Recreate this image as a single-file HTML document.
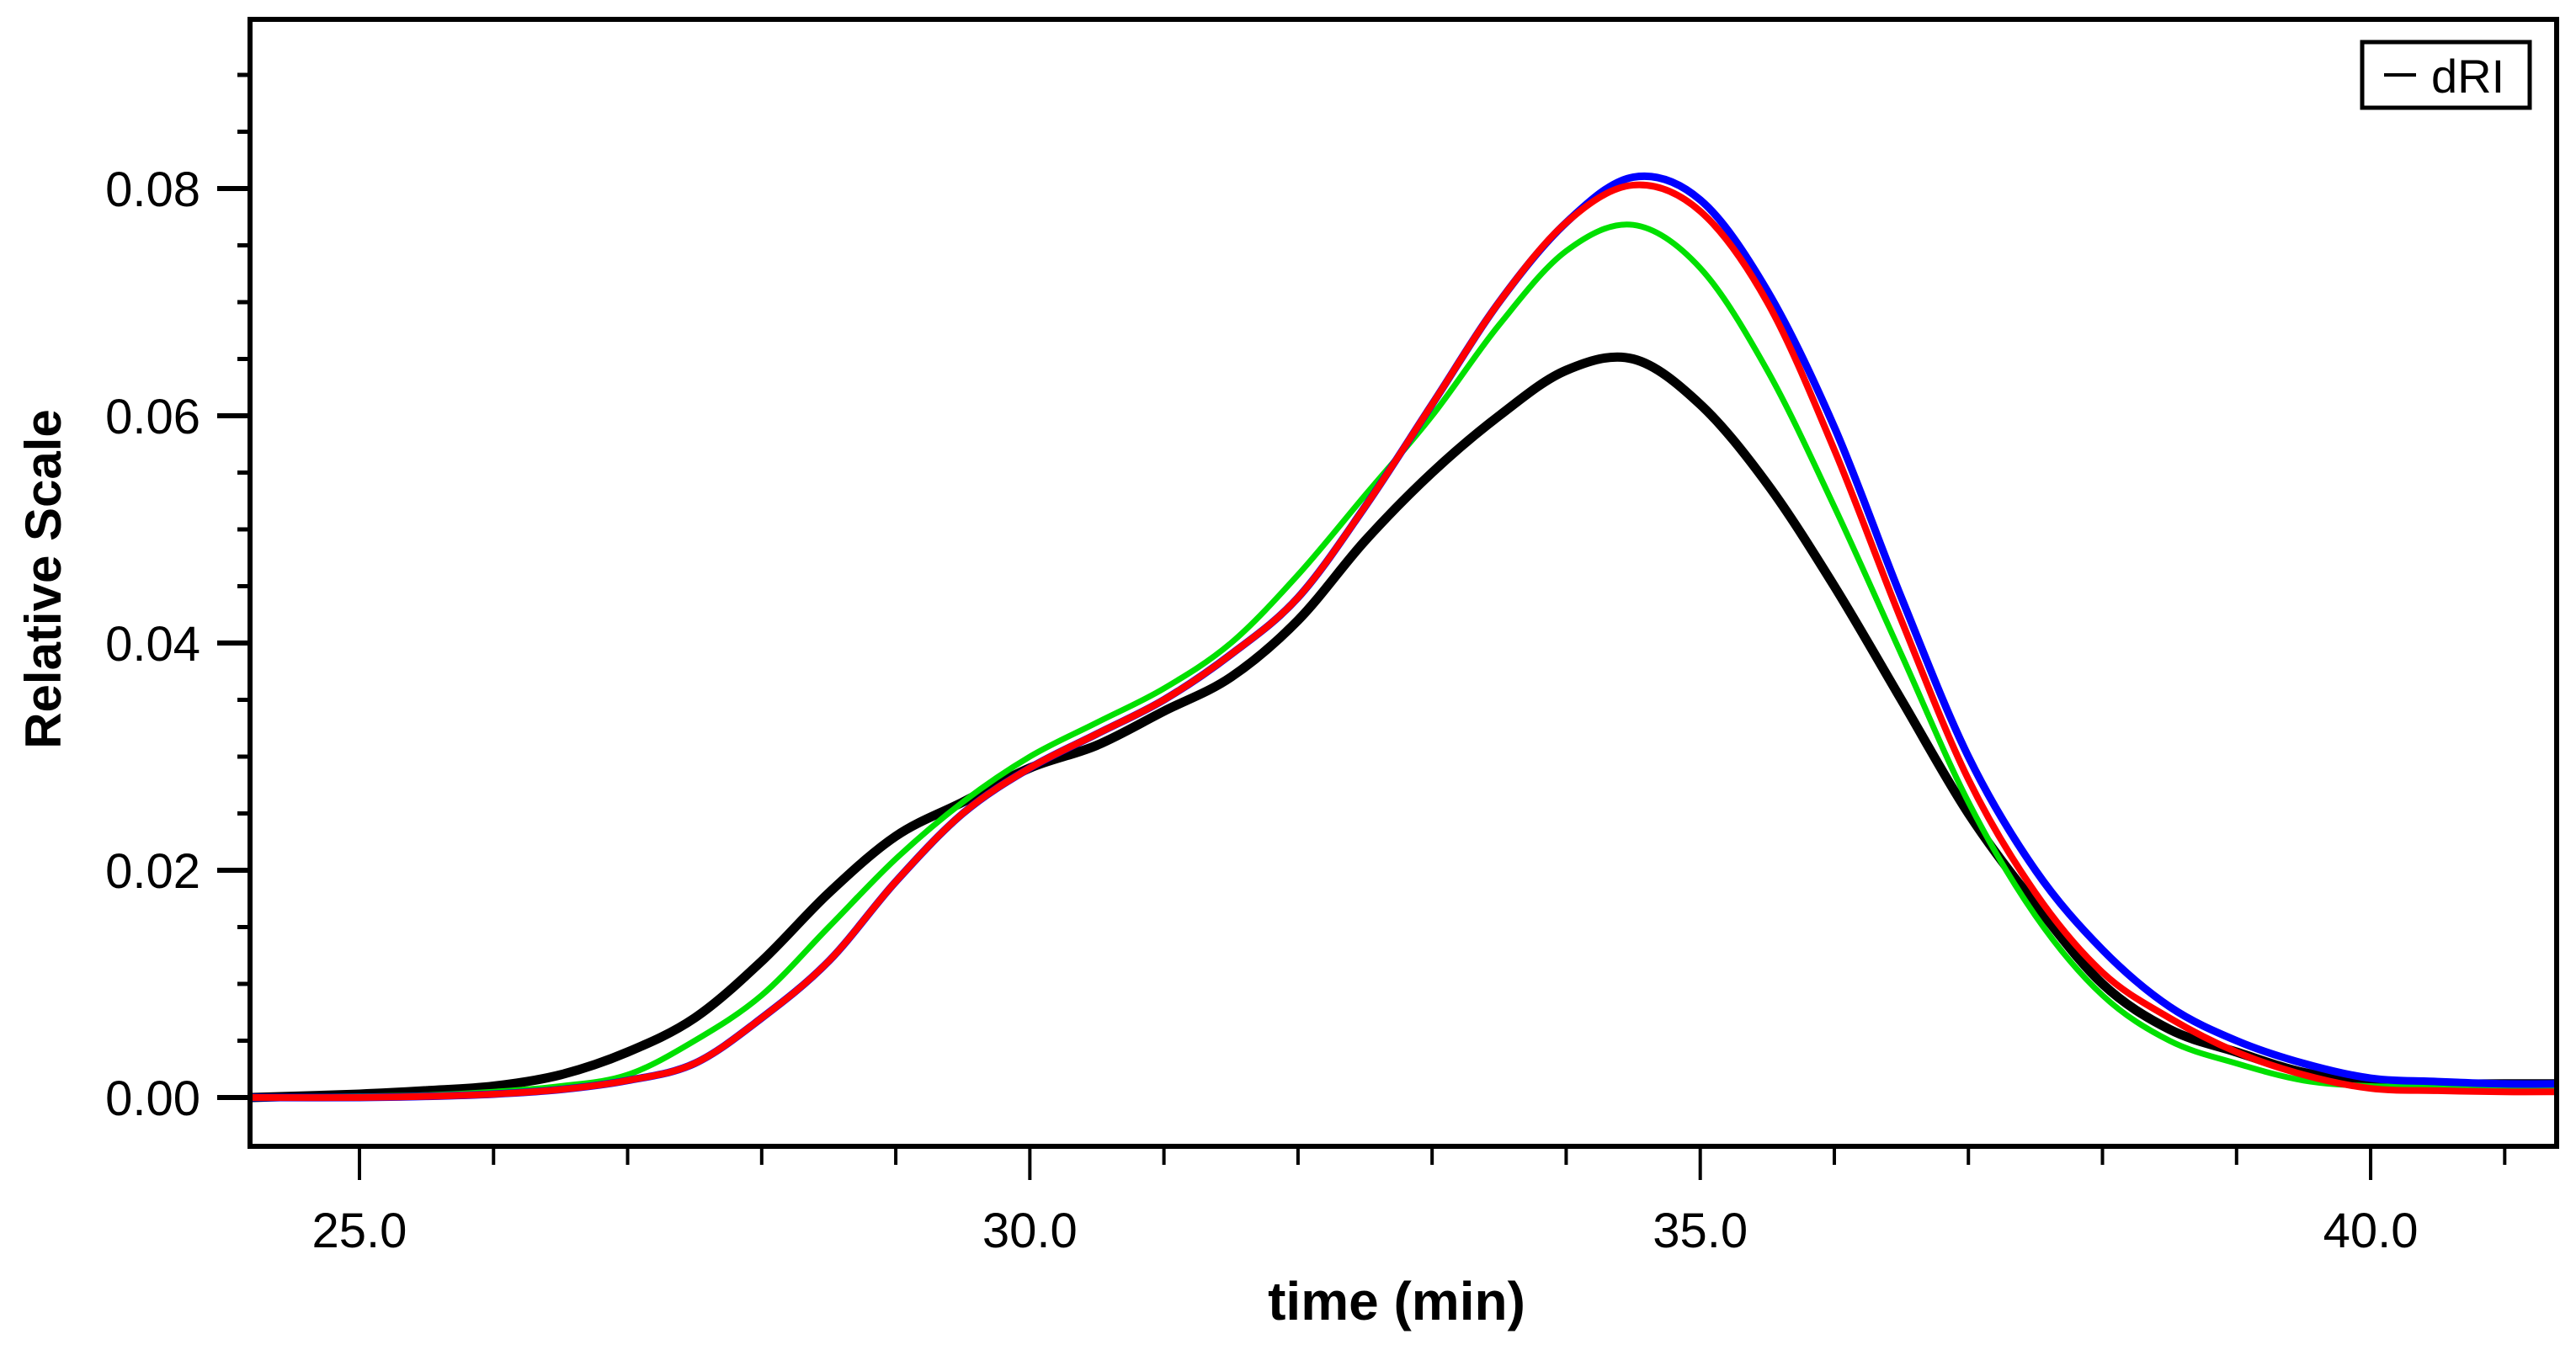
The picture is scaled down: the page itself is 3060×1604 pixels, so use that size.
<!DOCTYPE html>
<html><head><meta charset="utf-8"><style>
html,body{margin:0;padding:0;background:#fff;}
svg{display:block;}
text{font-family:"Liberation Sans",sans-serif;}
</style></head><body>
<svg id="chart" width="3060" height="1604" viewBox="0 0 3060 1604" xmlns="http://www.w3.org/2000/svg">
<rect x="0" y="0" width="3060" height="1604" fill="#fff"/>
<g id="series"></g>
<rect x="297" y="23" width="2740" height="1339" fill="none" stroke="#000" stroke-width="6"/>
<g id="axes"></g>
<text x="1659" y="1568" font-size="64" font-weight="bold" text-anchor="middle">time (min)</text>
<text transform="translate(72,688) rotate(-90)" font-size="60" font-weight="bold" text-anchor="middle">Relative Scale</text>
<g>
<rect x="2806" y="50" width="199" height="78" fill="#fff" stroke="#000" stroke-width="5"/>
<line x1="2832" y1="89" x2="2870" y2="89" stroke="#000" stroke-width="4"/>
<text x="2888" y="110" font-size="56">dRI</text>
</g>
</svg>
<script>
const times = [24.2,25,25.5,26,26.5,27,27.5,28,28.5,29,29.5,30,30.5,31,31.5,32,32.5,33,33.5,34,34.5,35,35.5,36,36.5,37,37.5,38,38.5,39,39.5,40,40.5,41,41.38];
const blackVals = [0,0.0003,0.0006,0.001,0.002,0.004,0.007,0.012,0.018,0.023,0.026,0.029,0.031,0.034,0.037,0.042,0.049,0.055,0.060,0.064,0.065,0.061,0.054,0.045,0.035,0.025,0.017,0.010,0.006,0.004,0.0022,0.0014,0.0012,0.0012,0.0012];
const greenVals = [0,0.0001,0.0002,0.0005,0.001,0.002,0.005,0.009,0.015,0.021,0.026,0.030,0.033,0.036,0.040,0.046,0.053,0.060,0.068,0.0745,0.0768,0.073,0.064,0.052,0.039,0.026,0.016,0.009,0.005,0.003,0.0015,0.001,0.001,0.001,0.001];
const blueVals = [0,0,0.0001,0.0003,0.0007,0.0015,0.003,0.007,0.012,0.019,0.025,0.029,0.032,0.035,0.039,0.044,0.052,0.061,0.070,0.077,0.081,0.079,0.071,0.059,0.044,0.030,0.020,0.013,0.008,0.005,0.003,0.0017,0.0014,0.0012,0.0012];
const redVals = [0,0,0.0001,0.0003,0.0007,0.0015,0.003,0.007,0.012,0.019,0.025,0.029,0.032,0.035,0.039,0.044,0.052,0.061,0.070,0.077,0.0803,0.078,0.070,0.057,0.042,0.028,0.018,0.011,0.007,0.004,0.002,0.0008,0.0006,0.0005,0.0005];
const xTickLabels = ["25.0","30.0","35.0","40.0"];
const xTickValues = [25,30,35,40];
const yTickLabels = ["0.00","0.02","0.04","0.06","0.08"];
const yTickValues = [0,0.02,0.04,0.06,0.08];

const NS="http://www.w3.org/2000/svg";
function xs(t){return 427+(t-25)*159.27;}
function ys(v){return 1304-v*13500;}
function mk(tag,attrs,parent){const e=document.createElementNS(NS,tag);for(const k in attrs)e.setAttribute(k,attrs[k]);parent.appendChild(e);return e;}
const sg=document.getElementById('series');
const seriesList=[["black",blackVals,"#000",11],["green",greenVals,"#00e000",7],["blue",blueVals,"#0000ff",9],["red",redVals,"#ff0000",8]];
seriesList.forEach(s=>{
  const n=times.length;
  const P=times.map((t,i)=>[xs(t),ys(s[1][i])]);
  let d="M"+P[0][0]+","+P[0][1];
  for(let i=0;i<n-1;i++){
    const p0=P[Math.max(0,i-1)],p1=P[i],p2=P[i+1],p3=P[Math.min(n-1,i+2)];
    const c1=[p1[0]+(p2[0]-p0[0])/6,p1[1]+(p2[1]-p0[1])/6];
    const c2=[p2[0]-(p3[0]-p1[0])/6,p2[1]-(p3[1]-p1[1])/6];
    d+=" C"+c1[0]+","+c1[1]+" "+c2[0]+","+c2[1]+" "+p2[0]+","+p2[1];
  }
  const p=mk('path',{d:d,fill:"none",stroke:s[2],"stroke-width":s[3],"stroke-linejoin":"round"},sg);
  
  
});
const ag=document.getElementById('axes');
for(let t=25;t<=41;t++){
  const major=xTickValues.indexOf(t)>=0;
  const l=mk('line',{x1:xs(t),x2:xs(t),y1:1362,y2:major?1402:1384,stroke:"#000","stroke-width":4},ag);
  
  
}
xTickLabels.forEach((lab,i)=>{
  const tx=mk('text',{x:xs(xTickValues[i]),y:1482,"font-size":58,"text-anchor":"middle"},ag);
  tx.textContent=lab;
  
  
});
for(let k=0;k<=19;k++){
  const v=k*0.005;
  if(ys(v)<26) break;
  const major=(k%4===0);
  const l=mk('line',{x1:major?258:282,x2:297,y1:ys(v),y2:ys(v),stroke:"#000","stroke-width":major?6:5},ag);
  
  
}
yTickLabels.forEach((lab,i)=>{
  const tx=mk('text',{x:238,y:ys(yTickValues[i])+21,"font-size":58,"text-anchor":"end"},ag);
  tx.textContent=lab;
  
  
});
</script>
</body></html>
